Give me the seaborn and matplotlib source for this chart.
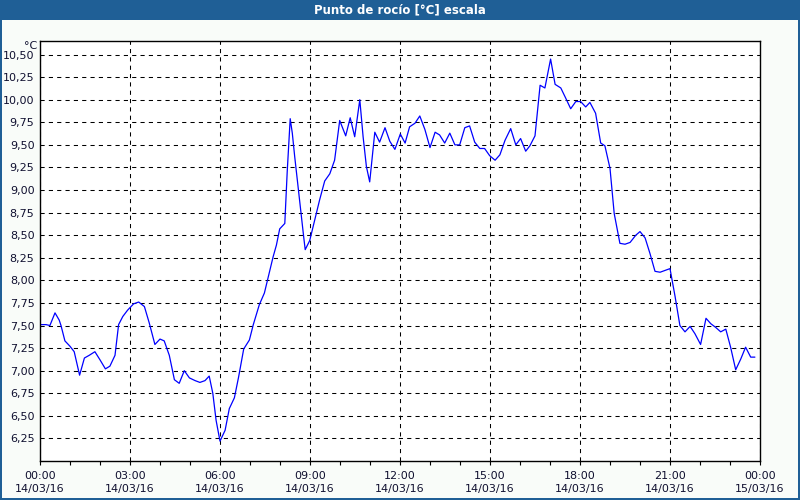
import matplotlib
matplotlib.use("Agg")
import matplotlib.pyplot as plt
import matplotlib.dates as mdates
import matplotlib.ticker as mticker
from matplotlib.patches import Rectangle
import seaborn as sns
import pandas as pd

title = "Punto de rocío [°C] escala"
unit_label = "°C"
start_day = "2016-03-14"

hours = [0.03, 0.2, 0.33, 0.5, 0.64, 0.7, 0.83, 1.0, 1.14, 1.32, 1.48, 1.64, 1.83, 2.0,
         2.18, 2.33, 2.5, 2.62, 2.76, 2.92, 3.12, 3.29, 3.48, 3.64, 3.83, 4.0, 4.14,
         4.31, 4.48, 4.64, 4.81, 4.98, 5.17, 5.33, 5.5, 5.64, 5.76, 5.87, 6.0, 6.17,
         6.31, 6.48, 6.62, 6.79, 6.98, 7.11, 7.31, 7.48, 7.66, 7.77, 7.88, 7.99, 8.16,
         8.24, 8.34, 8.41, 8.49, 8.6, 8.71, 8.79, 8.84, 8.99, 9.1, 9.21, 9.32, 9.49,
         9.66, 9.82, 9.99, 10.19, 10.34, 10.49, 10.66, 10.77, 10.88, 10.99, 11.16,
         11.32, 11.5, 11.66, 11.83, 12.01, 12.17, 12.32, 12.5, 12.66, 12.83, 13.0,
         13.17, 13.32, 13.49, 13.66, 13.83, 13.99, 14.16, 14.32, 14.49, 14.66, 14.82,
         14.99, 15.17, 15.33, 15.5, 15.69, 15.86, 16.02, 16.19, 16.33, 16.5, 16.67,
         16.83, 17.02, 17.17, 17.36, 17.52, 17.69, 17.86, 18.02, 18.19, 18.33, 18.52,
         18.69, 18.83, 19.0, 19.14, 19.33, 19.5, 19.67, 19.86, 20.0, 20.17, 20.33,
         20.5, 20.67, 20.83, 21.0, 21.17, 21.33, 21.5, 21.67, 21.83, 22.02, 22.2,
         22.36, 22.52, 22.69, 22.86, 23.02, 23.19, 23.36, 23.52, 23.69, 23.83]

dew_point = [7.51, 7.51, 7.50, 7.64, 7.56, 7.50, 7.33, 7.27, 7.21, 6.95, 7.14, 7.17, 7.21, 7.12,
             7.02, 7.05, 7.17, 7.51, 7.60, 7.67, 7.74, 7.76, 7.71, 7.53, 7.29, 7.35, 7.33,
             7.17, 6.90, 6.86, 7.00, 6.92, 6.89, 6.87, 6.89, 6.94, 6.75, 6.45, 6.22, 6.34,
             6.58, 6.70, 6.93, 7.24, 7.34, 7.51, 7.73, 7.86, 8.11, 8.26, 8.39, 8.57, 8.63,
             9.20, 9.79, 9.63, 9.37, 9.04, 8.70, 8.48, 8.34, 8.44, 8.59, 8.74, 8.89, 9.10,
             9.18, 9.33, 9.77, 9.60, 9.80, 9.59, 10.00, 9.59, 9.26, 9.09, 9.64,
             9.53, 9.69, 9.54, 9.45, 9.62, 9.52, 9.70, 9.74, 9.82, 9.67, 9.47,
             9.64, 9.61, 9.52, 9.63, 9.50, 9.50, 9.69, 9.71, 9.53, 9.46, 9.46,
             9.38, 9.33, 9.39, 9.55, 9.68, 9.50, 9.57, 9.43, 9.49, 9.60, 10.16,
             10.13, 10.45, 10.17, 10.13, 10.02, 9.90, 9.98, 9.98, 9.92, 9.97, 9.85,
             9.52, 9.49, 9.24, 8.74, 8.41, 8.40, 8.42, 8.50, 8.54, 8.47, 8.30,
             8.10, 8.09, 8.11, 8.13, 7.82, 7.50, 7.43, 7.49, 7.41, 7.29, 7.58,
             7.52, 7.48, 7.43, 7.46, 7.26, 7.01, 7.13, 7.26, 7.15, 7.15]

y_ticks = [6.25, 6.50, 6.75, 7.00, 7.25, 7.50, 7.75, 8.00, 8.25, 8.50, 8.75,
           9.00, 9.25, 9.50, 9.75, 10.00, 10.25, 10.50]

base = pd.Timestamp(start_day)
df = pd.DataFrame({
    "time": [base + pd.Timedelta(hours=h) for h in hours],
    "value": dew_point,
})

sns.set_theme(style="white")
plt.rcParams["font.family"] = ["DejaVu Sans"]

bar_color = "#1f5f96"
bg = "#f9fcf9"

fig = plt.figure(figsize=(8, 5), dpi=100, facecolor=bg)
W, H = 800, 500

# title bar
fig.patches.append(Rectangle((0, 1 - 20 / H), 1, 20 / H, transform=fig.transFigure,
                             facecolor=bar_color, edgecolor="none", zorder=0))
# borders
for (x0, y0, w, h) in [(0, 0, 2 / W, 1), (1 - 2 / W, 0, 2 / W, 1), (0, 0, 1, 2 / H)]:
    fig.patches.append(Rectangle((x0, y0), w, h, transform=fig.transFigure,
                                 facecolor=bar_color, edgecolor="none", zorder=0))
fig.text(0.5, 1 - 10 / H, title, color="white", fontsize=8.5, fontweight="bold",
         ha="center", va="center")

ax = fig.add_axes([40 / W, (H - 461) / H, 720 / W, 420 / H])
ax.set_facecolor("white")

sns.lineplot(data=df, x="time", y="value", ax=ax, color="#0000ff", linewidth=0.9)

ax.set_xlim(base, base + pd.Timedelta(hours=24))
ax.set_ylim(6.0, 10.65)
ax.set_yticks(y_ticks)
ax.yaxis.set_major_formatter(mticker.FuncFormatter(lambda v, p: f"{v:.2f}".replace(".", ",")))

ax.xaxis.set_major_locator(mdates.HourLocator(byhour=range(0, 24, 3)))
ax.xaxis.set_minor_locator(mdates.HourLocator())
ax.xaxis.set_major_formatter(mdates.DateFormatter("%H:%M\n%d/%m/%y"))

ax.set_xlabel("")
ax.set_ylabel("")
ax.tick_params(axis="x", which="both", direction="out", length=3, width=0.8,
               colors="black", labelsize=8, pad=4, bottom=True)
ax.tick_params(axis="y", which="both", length=0, labelsize=8, pad=4, colors="black")
for lab in ax.get_xticklabels():
    lab.set_linespacing(1.35)
    lab.set_color("#101030")
for lab in ax.get_yticklabels():
    lab.set_color("#101030")

ax.grid(True, which="major", color="black", linestyle=(0, (4, 4)), linewidth=0.75)
for s in ax.spines.values():
    s.set_color("black")
    s.set_linewidth(1.0)
    s.set_visible(True)

fig.text(37 / W, 1 - 46 / H, unit_label, fontsize=8, ha="right", va="center", color="#101030")

fig.savefig("out.png", dpi=100, facecolor=fig.get_facecolor())
